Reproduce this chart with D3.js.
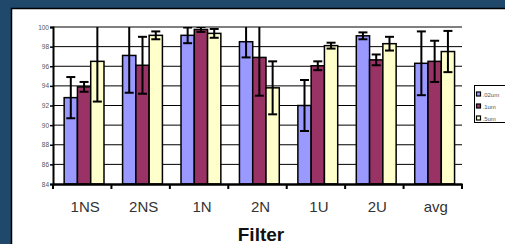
<!DOCTYPE html>
<html>
<head>
<meta charset="utf-8">
<script src="https://cdn.jsdelivr.net/npm/d3@7"></script>
<style>
  body { margin: 0; background: #1f486b; }
  svg { display: block; }
</style>
</head>
<body>
<script>
// values
const categories = ["1NS", "2NS", "1N", "2N", "1U", "2U", "avg"];
const series = [".02um", ".1um", ".5um"];
const colors = ["#9999ff", "#993366", "#ffffcc"];
const v02 = [92.8, 97.1, 99.15, 98.5, 92.0, 99.1, 96.3];
const e02 = [2.1, 3.8, 0.8, 1.6, 2.6, 0.35, 3.25];
const v1 = [93.9, 96.1, 99.75, 96.9, 96.05, 96.65, 96.5];
const e1 = [0.5, 2.9, 0.25, 3.9, 0.45, 0.55, 2.1];
const v5 = [96.5, 99.15, 99.35, 93.8, 98.1, 98.3, 97.5];
const e5 = [4.1, 0.4, 0.45, 2.7, 0.3, 0.7, 2.1];
const yTicks = [84, 86, 88, 90, 92, 94, 96, 98, 100];

const values = [v02, v1, v5];
const errors = [e02, e1, e5];

const width = 505, height = 244;
const plotLeft = 53, plotRight = 462, plotTop = 27, plotBottom = 184;

const svg = d3.select("body").append("svg")
    .attr("width", width)
    .attr("height", height);

// white panel
svg.append("rect")
    .attr("x", 11.5).attr("y", 8.5)
    .attr("width", width).attr("height", height)
    .attr("fill", "white")
    .attr("stroke", "black")
    .attr("stroke-width", 1.5);

const x = d3.scaleBand().domain(categories).range([plotLeft, plotRight]);
const xs = d3.scaleBand().domain(series).range([0, x.bandwidth()])
    .paddingOuter(0.7).align(0.6);
const y = d3.scaleLinear().domain([84, 100]).range([plotBottom, plotTop]);

// gridlines
svg.append("g").selectAll("line")
    .data(yTicks.slice(1))
    .enter().append("line")
    .attr("x1", plotLeft).attr("x2", plotRight)
    .attr("y1", d => y(d)).attr("y2", d => y(d))
    .attr("stroke", "black")
    .attr("stroke-width", 1);

svg.append("clipPath").attr("id", "plot")
    .append("rect")
    .attr("x", plotLeft).attr("y", plotTop)
    .attr("width", plotRight - plotLeft).attr("height", plotBottom - plotTop);

const rows = [];
series.forEach((s, i) => {
    categories.forEach((c, j) => {
        rows.push({ s: s, c: c, i: i, v: values[i][j], e: errors[i][j] });
    });
});

// bars
svg.append("g").selectAll("rect")
    .data(rows)
    .enter().append("rect")
    .attr("x", d => x(d.c) + xs(d.s))
    .attr("y", d => y(d.v))
    .attr("width", xs.bandwidth())
    .attr("height", d => y(84) - y(d.v))
    .attr("fill", d => colors[d.i])
    .attr("stroke", "black")
    .attr("stroke-width", 1.5);

// error bars
const eb = svg.append("g")
    .attr("clip-path", "url(#plot)")
    .attr("stroke", "black")
    .attr("stroke-width", 2)
    .selectAll("g")
    .data(rows)
    .enter().append("g")
    .attr("transform", d => `translate(${x(d.c) + xs(d.s) + xs.bandwidth() / 2},0)`);

eb.append("line")
    .attr("y1", d => y(d.v - d.e))
    .attr("y2", d => y(d.v + d.e));
eb.append("line")
    .attr("x1", -4.5).attr("x2", 4.5)
    .attr("y1", d => y(d.v - d.e)).attr("y2", d => y(d.v - d.e));
eb.append("line")
    .attr("x1", -4.5).attr("x2", 4.5)
    .attr("y1", d => y(d.v + d.e)).attr("y2", d => y(d.v + d.e));

// y axis
const yAxis = svg.append("g")
    .attr("transform", `translate(${plotLeft},0)`)
    .call(d3.axisLeft(y).tickValues(yTicks).tickSize(3).tickPadding(1))
    .call(g => g.select(".domain").attr("stroke-width", 2));
yAxis.selectAll(".tick line").attr("stroke-width", 1.5);
yAxis.selectAll("text")
    .attr("font-family", "Arial, 'Liberation Sans', sans-serif")
    .attr("font-size", 6.5)
    .attr("fill", "#555");

// x axis
const xAxis = svg.append("g")
    .attr("transform", `translate(0,${plotBottom})`)
    .call(d3.axisBottom(x).tickSize(0).tickPadding(17))
    .call(g => g.select(".domain").attr("stroke-width", 2.5));
xAxis.selectAll("text")
    .attr("font-family", "Arial, 'Liberation Sans', sans-serif")
    .attr("font-size", 15)
    .attr("fill", "#333")
    .attr("dx", 3);

svg.append("g").selectAll("line")
    .data(categories.concat("end"))
    .enter().append("line")
    .attr("x1", (d, i) => i < categories.length ? x(d) : plotRight)
    .attr("x2", (d, i) => i < categories.length ? x(d) : plotRight)
    .attr("y1", plotBottom).attr("y2", plotBottom + 5)
    .attr("stroke", "black")
    .attr("stroke-width", 2);

// axis title
svg.append("text")
    .attr("x", 261).attr("y", 241)
    .attr("text-anchor", "middle")
    .attr("font-family", "Arial, 'Liberation Sans', sans-serif")
    .attr("font-weight", "bold")
    .attr("font-size", 19)
    .attr("fill", "#111")
    .text("Filter");

// legend
const legend = svg.append("g").attr("transform", "translate(474.5,85.5)");
legend.append("rect")
    .attr("width", 40).attr("height", 37)
    .attr("fill", "white")
    .attr("stroke", "black")
    .attr("stroke-width", 1);
const li = legend.selectAll("g.item")
    .data(series)
    .enter().append("g")
    .attr("class", "item")
    .attr("transform", (d, i) => `translate(0,${9 + i * 12})`);
li.append("rect")
    .attr("x", 2).attr("y", -2.5)
    .attr("width", 4).attr("height", 4)
    .attr("fill", (d, i) => colors[i])
    .attr("stroke", "black")
    .attr("stroke-width", 1.2);
li.append("text")
    .attr("x", 8).attr("y", 2)
    .attr("font-family", "Arial, 'Liberation Sans', sans-serif")
    .attr("font-size", 6)
    .attr("fill", "#555")
    .text(d => d);
</script>
</body>
</html>
